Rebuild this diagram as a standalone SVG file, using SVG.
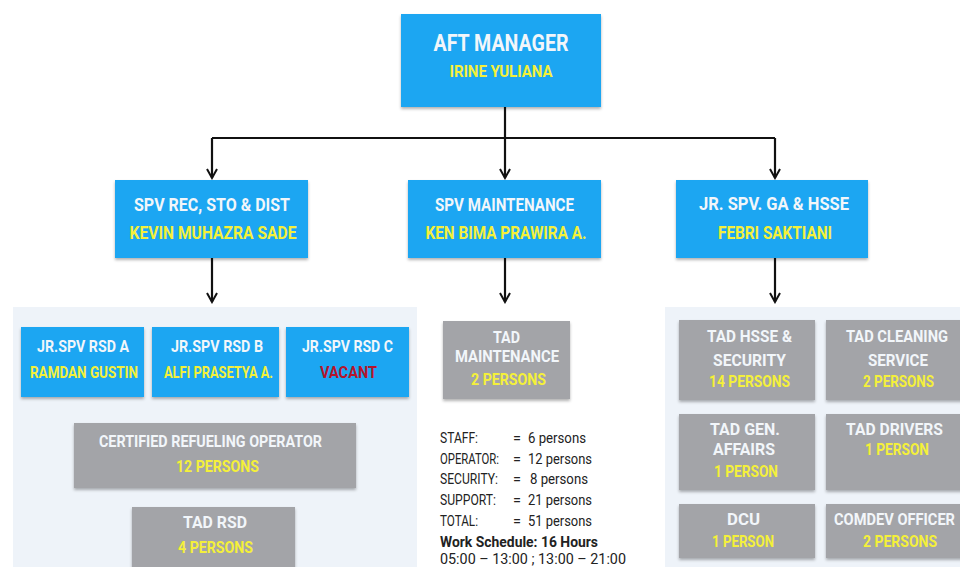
<svg xmlns="http://www.w3.org/2000/svg" width="960" height="567" viewBox="0 0 960 567">
<defs>
<filter id="sh" x="-10%" y="-10%" width="120%" height="130%">
<feDropShadow dx="0" dy="2" stdDeviation="1.5" flood-color="#000" flood-opacity="0.3"/>
</filter>
<marker id="ar" viewBox="0 0 12 12" refX="10" refY="6" markerWidth="12" markerHeight="12" markerUnits="userSpaceOnUse" orient="auto">
<path d="M1,1 L10,6 L1,11" fill="none" stroke="#111" stroke-width="2"/>
</marker>
<style>
.blue{fill:#1ba6f2;filter:url(#sh)}
.gray{fill:#a3a4a8;filter:url(#sh)}
text{font-family:Roboto,"Liberation Sans",sans-serif}
.t{font-weight:700;text-anchor:middle;fill:#f2f6fa}
.y{font-weight:700;text-anchor:middle;fill:#f4f03a}
.r{font-weight:700;text-anchor:middle;fill:#b5142c}
.s{font-size:14.5px;fill:#222}
.ln{fill:none;stroke:#111;stroke-width:2.2}
</style>
</defs>
<rect width="960" height="567" fill="#ffffff"/>
<rect x="13" y="307" width="404" height="260" fill="#eef3f9"/>
<rect x="665" y="307" width="295" height="260" fill="#eef3f9"/>

<g id="connectors">
<path class="ln" d="M505,107 V138"/>
<path class="ln" d="M212,138 H775"/>
<path class="ln" d="M212,138 V178" marker-end="url(#ar)"/>
<path class="ln" d="M505,138 V178" marker-end="url(#ar)"/>
<path class="ln" d="M775,138 V178" marker-end="url(#ar)"/>
<path class="ln" d="M212,258 V302" marker-end="url(#ar)"/>
<path class="ln" d="M505,258 V302" marker-end="url(#ar)"/>
<path class="ln" d="M775,258 V302" marker-end="url(#ar)"/>
</g>

<g id="aft-manager">
<rect class="blue" x="401" y="14" width="200" height="93"/>
<text class="t" x="501" y="51" font-size="24" textLength="135" lengthAdjust="spacingAndGlyphs">AFT MANAGER</text>
<text class="y" x="501" y="77" font-size="17" textLength="103" lengthAdjust="spacingAndGlyphs">IRINE YULIANA</text>
</g>

<g id="spv-rec">
<rect class="blue" x="115" y="180" width="193" height="78"/>
<text class="t" x="212" y="211" font-size="17.5" textLength="156" lengthAdjust="spacingAndGlyphs">SPV REC, STO &amp; DIST</text>
<text class="y" x="213" y="239" font-size="17.5" textLength="167" lengthAdjust="spacingAndGlyphs">KEVIN MUHAZRA SADE</text>
</g>

<g id="spv-maintenance">
<rect class="blue" x="408" y="180" width="193" height="78"/>
<text class="t" x="504.5" y="211" font-size="17.5" textLength="139" lengthAdjust="spacingAndGlyphs">SPV MAINTENANCE</text>
<text class="y" x="506" y="239" font-size="17.5" textLength="161" lengthAdjust="spacingAndGlyphs">KEN BIMA PRAWIRA A.</text>
</g>

<g id="jr-spv-ga">
<rect class="blue" x="676" y="180" width="192" height="78"/>
<text class="t" x="774" y="210" font-size="17.5" textLength="150" lengthAdjust="spacingAndGlyphs">JR. SPV. GA &amp; HSSE</text>
<text class="y" x="775" y="239" font-size="17.5" textLength="114" lengthAdjust="spacingAndGlyphs">FEBRI SAKTIANI</text>
</g>

<g id="rsd-a">
<rect class="blue" x="21" y="327" width="123" height="70"/>
<text class="t" x="83" y="352" font-size="16" textLength="92" lengthAdjust="spacingAndGlyphs">JR.SPV RSD A</text>
<text class="y" x="84" y="378" font-size="16" textLength="108" lengthAdjust="spacingAndGlyphs">RAMDAN GUSTIN</text>
</g>
<g id="rsd-b">
<rect class="blue" x="152" y="327" width="127" height="70"/>
<text class="t" x="217" y="352" font-size="16" textLength="92" lengthAdjust="spacingAndGlyphs">JR.SPV RSD B</text>
<text class="y" x="218.5" y="378" font-size="16" textLength="109" lengthAdjust="spacingAndGlyphs">ALFI PRASETYA A.</text>
</g>
<g id="rsd-c">
<rect class="blue" x="286" y="327" width="123" height="70"/>
<text class="t" x="347.5" y="352" font-size="16" textLength="91" lengthAdjust="spacingAndGlyphs">JR.SPV RSD C</text>
<text class="r" x="348.5" y="378" font-size="16" textLength="57" lengthAdjust="spacingAndGlyphs">VACANT</text>
</g>

<g id="certified-operator">
<rect class="gray" x="74" y="423" width="282" height="65"/>
<text class="t" x="210.5" y="447" font-size="16" textLength="223" lengthAdjust="spacingAndGlyphs">CERTIFIED REFUELING OPERATOR</text>
<text class="y" x="217.5" y="472" font-size="16" textLength="83" lengthAdjust="spacingAndGlyphs">12 PERSONS</text>
</g>
<g id="tad-rsd">
<rect class="gray" x="132" y="507" width="163" height="70"/>
<text class="t" x="215" y="528" font-size="16" textLength="64" lengthAdjust="spacingAndGlyphs">TAD RSD</text>
<text class="y" x="215.5" y="553" font-size="16" textLength="75" lengthAdjust="spacingAndGlyphs">4 PERSONS</text>
</g>

<g id="tad-maintenance">
<rect class="gray" x="443" y="321" width="127" height="78"/>
<text class="t" x="506.5" y="343" font-size="16" textLength="27" lengthAdjust="spacingAndGlyphs">TAD</text>
<text class="t" x="507" y="362" font-size="16" textLength="104" lengthAdjust="spacingAndGlyphs">MAINTENANCE</text>
<text class="y" x="508.5" y="385" font-size="16" textLength="75" lengthAdjust="spacingAndGlyphs">2 PERSONS</text>
</g>

<g id="summary">
<text class="s" x="440" y="443" textLength="38" lengthAdjust="spacingAndGlyphs">STAFF:</text>
<text class="s" x="440" y="464" textLength="59" lengthAdjust="spacingAndGlyphs">OPERATOR:</text>
<text class="s" x="440" y="484" textLength="58" lengthAdjust="spacingAndGlyphs">SECURITY:</text>
<text class="s" x="440" y="505" textLength="56" lengthAdjust="spacingAndGlyphs">SUPPORT:</text>
<text class="s" x="440" y="526" textLength="38" lengthAdjust="spacingAndGlyphs">TOTAL:</text>
<text class="s" x="513" y="443">=</text>
<text class="s" x="513" y="464">=</text>
<text class="s" x="513" y="484">=</text>
<text class="s" x="513" y="505">=</text>
<text class="s" x="513" y="526">=</text>
<text class="s" x="528" y="443" textLength="58" lengthAdjust="spacingAndGlyphs">6 persons</text>
<text class="s" x="528" y="464" textLength="64" lengthAdjust="spacingAndGlyphs">12 persons</text>
<text class="s" x="530" y="484" textLength="58" lengthAdjust="spacingAndGlyphs">8 persons</text>
<text class="s" x="528" y="505" textLength="64" lengthAdjust="spacingAndGlyphs">21 persons</text>
<text class="s" x="528" y="526" textLength="64" lengthAdjust="spacingAndGlyphs">51 persons</text>
<text class="s" x="440" y="547" font-weight="700" textLength="158" lengthAdjust="spacingAndGlyphs">Work Schedule: 16 Hours</text>
<text class="s" x="440" y="564" textLength="186" lengthAdjust="spacingAndGlyphs">05:00 – 13:00  ;  13:00 – 21:00</text>
</g>

<g id="tad-hsse">
<rect class="gray" x="679" y="320" width="136" height="80"/>
<text class="t" x="749.5" y="342" font-size="17" textLength="85" lengthAdjust="spacingAndGlyphs">TAD HSSE &amp;</text>
<text class="t" x="749.5" y="366" font-size="17" textLength="73" lengthAdjust="spacingAndGlyphs">SECURITY</text>
<text class="y" x="749.5" y="387" font-size="16" textLength="81" lengthAdjust="spacingAndGlyphs">14 PERSONS</text>
</g>
<g id="tad-cleaning">
<rect class="gray" x="826" y="320" width="140" height="80"/>
<text class="t" x="897" y="342" font-size="17" textLength="102" lengthAdjust="spacingAndGlyphs">TAD CLEANING</text>
<text class="t" x="898" y="366" font-size="17" textLength="60" lengthAdjust="spacingAndGlyphs">SERVICE</text>
<text class="y" x="898.5" y="387" font-size="16" textLength="71" lengthAdjust="spacingAndGlyphs">2 PERSONS</text>
</g>
<g id="tad-gen">
<rect class="gray" x="679" y="414" width="136" height="76"/>
<text class="t" x="745" y="435" font-size="17" textLength="70" lengthAdjust="spacingAndGlyphs">TAD GEN.</text>
<text class="t" x="744" y="455" font-size="17" textLength="62" lengthAdjust="spacingAndGlyphs">AFFAIRS</text>
<text class="y" x="746" y="477" font-size="16" textLength="64" lengthAdjust="spacingAndGlyphs">1 PERSON</text>
</g>
<g id="tad-drivers">
<rect class="gray" x="826" y="414" width="140" height="76"/>
<text class="t" x="894.5" y="435" font-size="17" textLength="97" lengthAdjust="spacingAndGlyphs">TAD DRIVERS</text>
<text class="y" x="897" y="455" font-size="16" textLength="64" lengthAdjust="spacingAndGlyphs">1 PERSON</text>
</g>
<g id="dcu">
<rect class="gray" x="679" y="504" width="136" height="54"/>
<text class="t" x="743.5" y="525" font-size="17" textLength="33" lengthAdjust="spacingAndGlyphs">DCU</text>
<text class="y" x="743" y="547" font-size="16" textLength="62" lengthAdjust="spacingAndGlyphs">1 PERSON</text>
</g>
<g id="comdev">
<rect class="gray" x="826" y="504" width="140" height="54"/>
<text class="t" x="894.5" y="525" font-size="17" textLength="121" lengthAdjust="spacingAndGlyphs">COMDEV OFFICER</text>
<text class="y" x="900" y="547" font-size="16" textLength="74" lengthAdjust="spacingAndGlyphs">2 PERSONS</text>
</g>
</svg>
